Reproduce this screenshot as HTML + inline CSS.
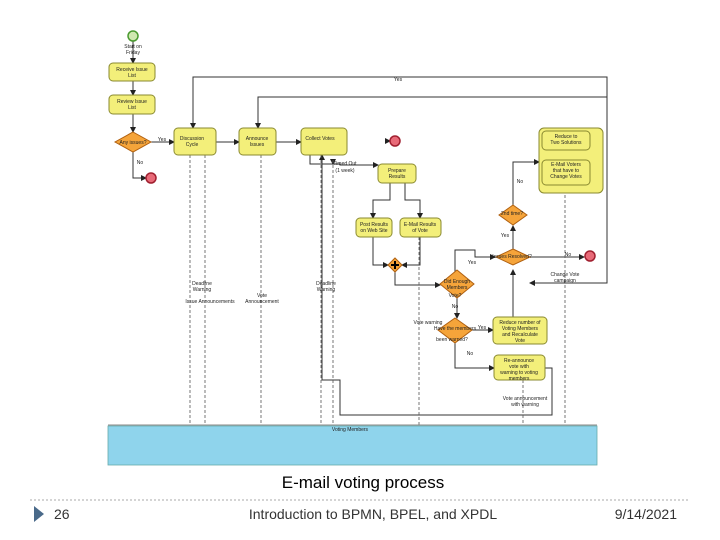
<!DOCTYPE html><html><head><style>body{margin:0;background:#fff}svg{display:block}text{font-family:"Liberation Sans",sans-serif}</style></head><body>
<svg width="720" height="540" viewBox="0 0 720 540" xmlns="http://www.w3.org/2000/svg">
<defs><marker id="a" markerWidth="6" markerHeight="6" refX="5" refY="3" orient="auto"><path d="M0,0L6,3L0,6z" fill="#222"/></marker></defs>
<g stroke="#333" stroke-width="1" fill="none" marker-end="url(#a)">
<path d="M133,41V63"/><path d="M133,81V95"/><path d="M133,114V132"/><path d="M133,152V178H146"/>
<path d="M151,142H174"/><path d="M216,142H239"/><path d="M276,142H301"/>
<path d="M607,90V77H193V128"/><path d="M607,90V97H258V128"/>
<path d="M607,90V283H530"/>
<path d="M310,155V164H340V165H378"/>
<path d="M333,160V164"/>
<path d="M390,183V200H373V218"/><path d="M405,183V200H420V218"/>
<path d="M373,237V265H388"/><path d="M420,237V265H402"/>
<path d="M395,272V285H440"/>
<path d="M455,274V250H475V257H495"/>
<path d="M457,294V318"/>
<path d="M470,330H493"/>
<path d="M513,317V270"/>
<path d="M455,343V368H494"/>
<path d="M513,249V226"/>
<path d="M513,205V162H539"/>
<path d="M530,257H584"/>
<path d="M545,368H552V415H340V380H322V155"/>
<path d="M385,141H390"/>
</g>
<g stroke="#555" stroke-width="0.8" stroke-dasharray="3,2" fill="none">
<path d="M190,155V425"/><path d="M205,155V425"/><path d="M261,155V425"/><path d="M321,155V425"/><path d="M333,160V425"/><path d="M419,237V425"/><path d="M565,185V425"/><path d="M523,380V425"/>
</g>
<circle cx="133" cy="36" r="5" fill="#cfe8b0" stroke="#4a9a30" stroke-width="1.5"/>
<g fill="#f3ef7a" stroke="#8a8a30" stroke-width="1">
<rect x="109" y="63" width="46" height="18" rx="4"/><rect x="109" y="95" width="46" height="19" rx="4"/>
<rect x="174" y="128" width="42" height="27" rx="4"/><rect x="239" y="128" width="37" height="27" rx="4"/><rect x="301" y="128" width="46" height="27" rx="4"/>
<rect x="378" y="164" width="38" height="19" rx="4"/><rect x="356" y="218" width="36" height="19" rx="4"/><rect x="400" y="218" width="41" height="19" rx="4"/>
<rect x="493" y="317" width="54" height="27" rx="4"/><rect x="494" y="355" width="51" height="25" rx="4"/>
<rect x="539" y="128" width="64" height="65" rx="5"/>
<rect x="542" y="131" width="48" height="19" rx="4"/><rect x="542" y="160" width="48" height="25" rx="4"/>
</g>
<g fill="#f5a43a" stroke="#b06010" stroke-width="1">
<path d="M133,132L151,142L133,152L115,142z"/>
<path d="M395,258L402,265L395,272L388,265z"/>
<path d="M457,270L474,284L457,298L440,284z"/>
<path d="M455,318L472,330L455,343L438,330z"/>
<path d="M513,249L530,257L513,265L496,257z"/>
<path d="M513,205L527,215L513,225L499,215z"/>
</g>
<path d="M391,265H399M395,261V269" stroke="#000" stroke-width="2"/>
<g fill="#e86a78" stroke="#a02030" stroke-width="1.5"><circle cx="151" cy="178" r="5"/><circle cx="395" cy="141" r="5"/><circle cx="590" cy="256" r="5"/></g>
<rect x="108" y="426" width="489" height="39" fill="#8fd4ec" stroke="#6aa" stroke-width="0.8"/>
<line x1="108" y1="425" x2="597" y2="425" stroke="#888"/>
<g font-size="5" fill="#222" text-anchor="middle">
<text x="133" y="48">Start on</text><text x="133" y="54">Friday</text>
<text x="132" y="71">Receive Issue</text><text x="132" y="77">List</text>
<text x="132" y="103">Review Issue</text><text x="132" y="109">List</text>
<text x="133" y="144">Any issues?</text><text x="140" y="164">No</text><text x="162" y="141">Yes</text>
<text x="192" y="140">Discussion</text><text x="192" y="146">Cycle</text>
<text x="257" y="140">Announce</text><text x="257" y="146">Issues</text>
<text x="320" y="140">Collect Votes</text>
<text x="345" y="165">Timed Out</text><text x="345" y="172">(1 week)</text>
<text x="397" y="172">Prepare</text><text x="397" y="178">Results</text>
<text x="374" y="226">Post Results</text><text x="374" y="232">on Web Site</text>
<text x="420" y="226">E-Mail Results</text><text x="420" y="232">of Vote</text>
<text x="457" y="283">Did Enough</text><text x="457" y="289">Members</text><text x="455" y="297">Vote?</text>
<text x="472" y="264">Yes</text><text x="455" y="308">No</text>
<text x="512" y="258">Issues Resolved?</text><text x="512" y="215">2nd time?</text>
<text x="505" y="237">Yes</text><text x="520" y="183">No</text><text x="568" y="256">No</text>
<text x="565" y="276">Change Vote</text><text x="565" y="282">campaign</text>
<text x="455" y="330">Have the members</text><text x="452" y="341">been warned?</text>
<text x="428" y="324">Vote warning</text><text x="482" y="329">Yes</text><text x="470" y="355">No</text>
<text x="520" y="324">Reduce number of</text><text x="520" y="330">Voting Members</text><text x="520" y="336">and Recalculate</text><text x="520" y="342">Vote</text>
<text x="519" y="362">Re-announce</text><text x="519" y="368">vote with</text><text x="519" y="374">warning to voting</text><text x="519" y="380">members</text>
<text x="525" y="400">Vote announcement</text><text x="525" y="406">with warning</text>
<text x="566" y="138">Reduce to</text><text x="566" y="144">Two Solutions</text>
<text x="566" y="166">E-Mail Voters</text><text x="566" y="172">that have to</text><text x="566" y="178">Change Votes</text>
<text x="202" y="285">Deadline</text><text x="202" y="291">Warning</text><text x="210" y="303">Issue Announcements</text>
<text x="262" y="297">Vote</text><text x="262" y="303">Announcement</text>
<text x="326" y="285">Deadline</text><text x="326" y="291">Warning</text>
<text x="398" y="81">Yes</text>
<text x="350" y="431">Voting Members</text>
</g>
<text x="363" y="488" font-size="17" text-anchor="middle" fill="#000">E-mail voting process</text>
<line x1="30" y1="500" x2="690" y2="500" stroke="#aaa" stroke-dasharray="2,2"/>
<path d="M34,506L44,514L34,522z" fill="#4a6a8a"/>
<g font-size="14" fill="#333"><text x="54" y="519">26</text><text x="373" y="519" text-anchor="middle">Introduction to BPMN, BPEL, and XPDL</text><text x="677" y="519" text-anchor="end">9/14/2021</text></g>
</svg></body></html>
